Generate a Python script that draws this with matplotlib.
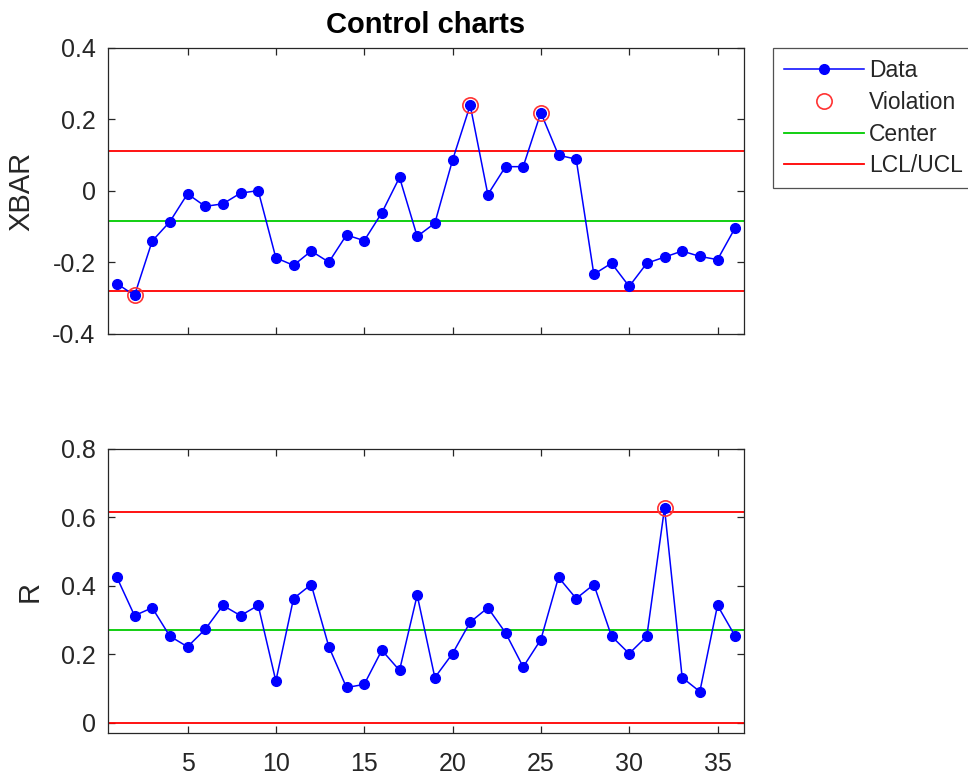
import matplotlib
matplotlib.use("Agg")
import matplotlib.pyplot as plt
import numpy as np

# datos
muestras = np.arange(1, 37)
xbar = [-0.259, -0.292, -0.140, -0.086, -0.008, -0.043, -0.036, -0.006, 0.001,
        -0.187, -0.208, -0.168, -0.199, -0.123, -0.139, -0.061, 0.038, -0.127,
        -0.090, 0.086, 0.240, -0.010, 0.068, 0.068, 0.219, 0.100, 0.089,
        -0.233, -0.202, -0.267, -0.202, -0.185, -0.168, -0.183, -0.192, -0.103]
rango = [0.425, 0.313, 0.336, 0.253, 0.222, 0.273, 0.343, 0.313, 0.343,
         0.122, 0.363, 0.404, 0.222, 0.103, 0.112, 0.212, 0.153, 0.373,
         0.132, 0.202, 0.294, 0.336, 0.263, 0.163, 0.243, 0.425, 0.363,
         0.404, 0.253, 0.202, 0.253, 0.627, 0.132, 0.091, 0.343, 0.253]

# limites
xbar_centro, xbar_lcl, xbar_ucl = -0.084, -0.280, 0.112
r_centro, r_lcl, r_ucl = 0.271, 0.0, 0.617

# puntos fuera de control (numero de muestra)
viol_xbar = [2, 21, 25]
viol_r = [32]

gris = '#262626'
plt.rcParams['font.family'] = ['Liberation Sans', 'DejaVu Sans']

fig = plt.figure(figsize=(9.68, 7.76), dpi=100)
ax1 = fig.add_axes([0.1116, 0.5696, 0.657, 0.3686])
ax2 = fig.add_axes([0.1116, 0.0554, 0.657, 0.3660])


def dibujar(ax, y, centro, lcl, ucl, viol):
    y = np.array(y)
    ax.plot(muestras, y, '-o', color='#0000ff', lw=1.1, ms=7, label='Data', zorder=3)
    idx = np.array(viol) - 1
    ax.plot(muestras[idx], y[idx], 'o', mfc='none', mec='#ff3333', ms=11, mew=1.2,
            label='Violation', zorder=4)
    ax.axhline(centro, color='#00cc00', lw=1.3, label='Center', zorder=2)
    ax.axhline(ucl, color='#ff0000', lw=1.3, label='LCL/UCL', zorder=2)
    ax.axhline(lcl, color='#ff0000', lw=1.3, zorder=2)
    ax.set_xlim(0.5, 36.5)
    ax.set_xticks([5, 10, 15, 20, 25, 30, 35])
    ax.tick_params(direction='in', top=True, right=True, labelsize=18,
                   colors=gris, length=5, width=0.9)
    ax.tick_params(axis='y', pad=9)
    ax.tick_params(axis='x', pad=14)
    for s in ax.spines.values():
        s.set_color(gris)
        s.set_linewidth(0.9)


dibujar(ax1, xbar, xbar_centro, xbar_lcl, xbar_ucl, viol_xbar)
dibujar(ax2, rango, r_centro, r_lcl, r_ucl, viol_r)

ax1.set_ylim(-0.4, 0.4)
ax1.set_yticks([-0.4, -0.2, 0, 0.2, 0.4])
ax1.set_yticklabels(['-0.4', '-0.2', '0', '0.2', '0.4'])
ax1.tick_params(labelbottom=False)
ax1.set_ylabel('XBAR', fontsize=21, color=gris)
ax1.yaxis.set_label_coords(-0.1148, 0.5)
ax1.set_title('Control charts', fontsize=21, fontweight='bold', color='black', pad=11)

ax2.set_ylim(-0.03, 0.8)
ax2.set_yticks([0, 0.2, 0.4, 0.6, 0.8])
ax2.set_yticklabels(['0', '0.2', '0.4', '0.6', '0.8'])
ax2.set_ylabel('R', fontsize=21, color=gris)
ax2.yaxis.set_label_coords(-0.102, 0.5)

ley = ax1.legend(loc='upper left', bbox_to_anchor=(0.7986, 0.9378),
                 bbox_transform=fig.transFigure, fontsize=16.5, frameon=True,
                 fancybox=False, edgecolor=gris, handlelength=3.5,
                 handletextpad=0.22, borderaxespad=0, labelspacing=0.38,
                 borderpad=0.48)
ley.get_frame().set_linewidth(0.9)
for t in ley.get_texts():
    t.set_color(gris)

fig.savefig('out.png', dpi=100)
